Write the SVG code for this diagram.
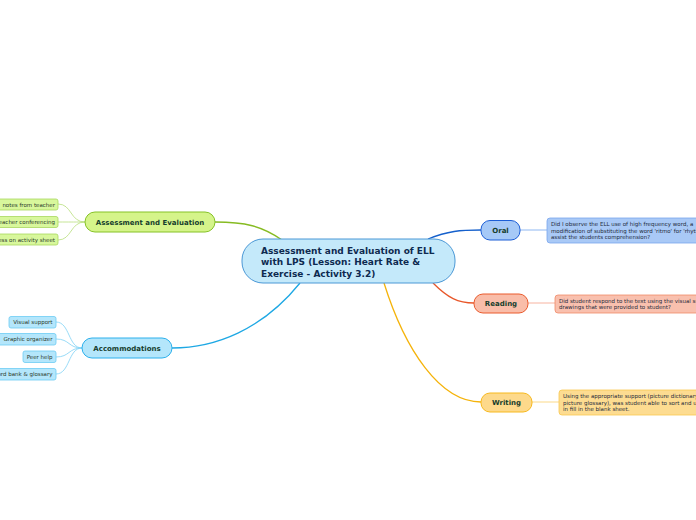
<svg xmlns="http://www.w3.org/2000/svg" width="696" height="520" viewBox="0 0 696 520">
<style>
text{font-family:"DejaVu Sans",Verdana,sans-serif}
.t1{font-size:9px;font-weight:bold;fill:#0e2a50}
.t2{font-size:7px;font-weight:bold;fill:#163d2c;text-anchor:middle}
.lf{font-size:5.5px;fill:#2a3a2a;text-anchor:end}
.bx{font-size:5.5px;fill:#1e2a3a}
.c{fill:none}
</style>
<rect width="696" height="520" fill="#ffffff"/>
<g id="connectors" class="c">
<path d="M282,240 C262,226 245,222 215,222" stroke="#86bb22" stroke-width="1.3"/>
<path d="M300,283 C262,330 215,348 172,348" stroke="#1ea8e4" stroke-width="1.3"/>
<path d="M428,239 C448,231 460,230 481,230" stroke="#1560cc" stroke-width="1.3"/>
<path d="M433,283 C448,298 458,303 474,303" stroke="#e8572a" stroke-width="1.3"/>
<path d="M384,283 C405,350 440,402 481,402" stroke="#f5b30a" stroke-width="1.3"/>
<path d="M520,230 L547,230" stroke="#8fb8f2" stroke-width="1"/>
<path d="M528,303 L555,303" stroke="#f7b3a0" stroke-width="1"/>
<path d="M532,402 L559,402" stroke="#fbd988" stroke-width="1"/>
<g stroke="#b8de7c" stroke-width="0.8">
<path d="M85,222 C70,222 72,204 58,204"/>
<path d="M85,222 C70,222 72,222 58,222"/>
<path d="M85,222 C70,222 72,240 58,240"/>
</g>
<g stroke="#7fd2f5" stroke-width="0.8">
<path d="M82,348 C68,348 70,322 56,322"/>
<path d="M82,348 C68,348 70,339 56,339"/>
<path d="M82,348 C68,348 70,357 56,357"/>
<path d="M82,348 C68,348 70,374 56,374"/>
</g>
</g>
<g id="center">
<rect x="242" y="239" width="213" height="44" rx="21" fill="#c4e9fa" stroke="#4b98d6" stroke-width="1"/>
<text class="t1" x="261" y="253.5">Assessment and Evaluation of ELL</text>
<text class="t1" x="261" y="265">with LPS (Lesson: Heart Rate &amp;</text>
<text class="t1" x="261" y="276.5">Exercise - Activity 3.2)</text>
</g>
<g id="assessment">
<rect x="85" y="212" width="130" height="20" rx="10" fill="#d5f48a" stroke="#86c226" stroke-width="1"/>
<text class="t2" x="150" y="224.5">Assessment and Evaluation</text>
</g>
<g id="leaf-notes">
<rect x="-20" y="199" width="78" height="11" rx="2" fill="#d8f79c" stroke="#a8d85e" stroke-width="0.8"/>
<text class="lf" x="55" y="206.6">notes from teacher</text>
</g>
<g id="leaf-conf">
<rect x="-20" y="216.5" width="78" height="11" rx="2" fill="#d8f79c" stroke="#a8d85e" stroke-width="0.8"/>
<text class="lf" x="55" y="224.1">Teacher conferencing</text>
</g>
<g id="leaf-sheet">
<rect x="-20" y="234" width="78" height="11" rx="2" fill="#d8f79c" stroke="#a8d85e" stroke-width="0.8"/>
<text class="lf" x="55" y="241.6">Progress on activity sheet</text>
</g>
<g id="accommodations">
<rect x="82" y="338" width="90" height="20" rx="10" fill="#b4e6fb" stroke="#2cb0ec" stroke-width="1"/>
<text class="t2" x="127" y="350.5">Accommodations</text>
</g>
<g id="leaf-visual">
<rect x="9" y="316.5" width="47" height="11.5" rx="2" fill="#b4e6fb" stroke="#6ccbf4" stroke-width="0.8"/>
<text class="lf" x="52.5" y="324.3">Visual support</text>
</g>
<g id="leaf-graphic">
<rect x="-2" y="333.5" width="58" height="11.5" rx="2" fill="#b4e6fb" stroke="#6ccbf4" stroke-width="0.8"/>
<text class="lf" x="52.5" y="341.3">Graphic organizer</text>
</g>
<g id="leaf-peer">
<rect x="23" y="351" width="33" height="11.5" rx="2" fill="#b4e6fb" stroke="#6ccbf4" stroke-width="0.8"/>
<text class="lf" x="52.5" y="358.8">Peer help</text>
</g>
<g id="leaf-wordbank">
<rect x="-20" y="368.5" width="76" height="11.5" rx="2" fill="#b4e6fb" stroke="#6ccbf4" stroke-width="0.8"/>
<text class="lf" x="52.5" y="376.3">Word bank &amp; glossary</text>
</g>
<g id="oral">
<rect x="481" y="220.5" width="39" height="19.5" rx="9" fill="#a6c9f7" stroke="#1c5ed6" stroke-width="1"/>
<text class="t2" x="500.5" y="232.5">Oral</text>
</g>
<g id="oral-text">
<rect x="547" y="218" width="170" height="25" rx="3" fill="#a9c9f6" stroke="#7aa6ee" stroke-width="0.8"/>
<text class="bx" x="551" y="226">Did I observe the ELL use of high frequency word, a</text>
<text class="bx" x="551" y="232.5">modification of substituting the word 'ritmo' for 'rhythm' to</text>
<text class="bx" x="551" y="239">assist the students comprehension?</text>
</g>
<g id="reading">
<rect x="474" y="294" width="54" height="19" rx="9" fill="#f9bda9" stroke="#ea5a2c" stroke-width="1"/>
<text class="t2" x="501" y="306">Reading</text>
</g>
<g id="reading-text">
<rect x="555" y="295" width="170" height="18" rx="3" fill="#f9c0ae" stroke="#f08a68" stroke-width="0.8"/>
<text class="bx" x="559" y="302.5">Did student respond to the text using the visual support</text>
<text class="bx" x="559" y="309">drawings that were provided to student?</text>
</g>
<g id="writing">
<rect x="481" y="393" width="51" height="19" rx="9" fill="#fdd98b" stroke="#f7b91f" stroke-width="1"/>
<text class="t2" x="506.5" y="405">Writing</text>
</g>
<g id="writing-text">
<rect x="559" y="390" width="170" height="25" rx="3" fill="#fddc91" stroke="#f9c850" stroke-width="0.8"/>
<text class="bx" x="563" y="398">Using the appropriate support (picture dictionary,</text>
<text class="bx" x="563" y="404.5">picture glossary), was student able to sort and use</text>
<text class="bx" x="563" y="411">in fill in the blank sheet.</text>
</g>
</svg>
